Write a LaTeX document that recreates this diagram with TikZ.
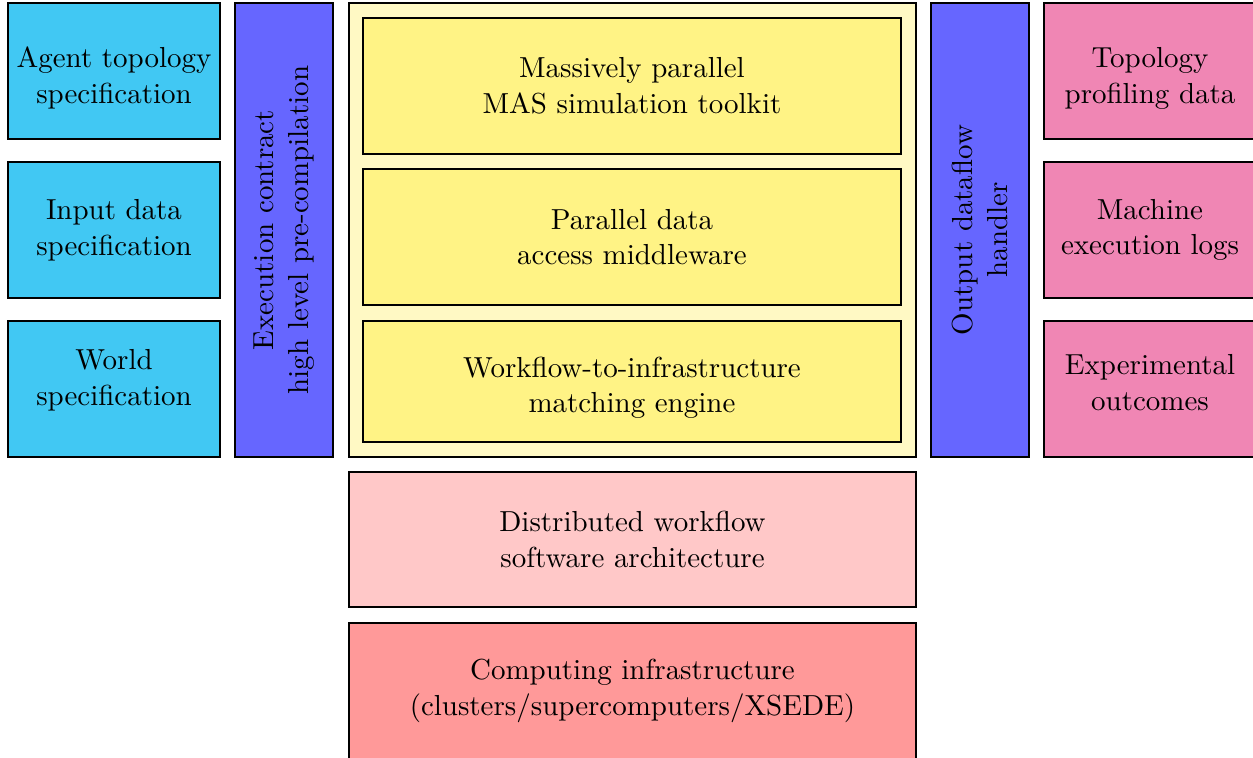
\documentclass[tikz,border=0pt]{standalone}
\usepackage{tikz}
\usepackage{xcolor}
\usetikzlibrary{positioning}

\definecolor{inputcol}{RGB}{65,200,243}
\definecolor{handlercol}{RGB}{102,102,255}
\definecolor{corecol}{RGB}{255,249,196}
\definecolor{toolcol}{RGB}{255,243,133}
\definecolor{outputcol}{RGB}{240,134,180}
\definecolor{archcol}{RGB}{255,200,200}
\definecolor{infracol}{RGB}{255,153,153}

\begin{document}
\begin{tikzpicture}[
    font=\fontsize{10.3pt}{12.7pt}\selectfont,
    box/.style={draw, thick, align=center, inner sep=0pt},
    txt/.style={align=center, inner sep=0pt},
    sidebox/.style={box, minimum width=2.65cm, minimum height=1.7cm},
    handler/.style={box, fill=handlercol, rotate=90, minimum width=5.675cm, minimum height=1.225cm},
    toolbox/.style={box, fill=toolcol, minimum width=6.725cm},
    widebox/.style={box, minimum width=7.0875cm}]
    \useasboundingbox (0,0) rectangle (15.6625,-9.475);
    % inputs
    \node[sidebox, fill=inputcol] (topo) at (1.425,-0.8875) {};
    \node[txt] (topo txt) at ([yshift=-0.09cm]topo) {Agent topology\\specification};
    \node[sidebox, fill=inputcol] (indata) at (1.425,-2.875) {Input data\\specification};
    \node[sidebox, fill=inputcol] (world) at (1.425,-4.8625) {};
    \node[txt] (world txt) at ([yshift=0.11cm]world) {World\\specification};
    \node[handler] (contract) at (3.55,-2.875) {Execution contract\\high level pre-compilation};
    % core
    \node[widebox, fill=corecol, minimum height=5.675cm] (core) at (7.906,-2.875) {};
    \node[toolbox, minimum height=1.7cm] (mas) at (7.9,-1.075) {Massively parallel\\MAS simulation toolkit};
    \node[toolbox, minimum height=1.7cm] (middle) at (7.9,-2.9625) {Parallel data\\access middleware};
    \node[toolbox, minimum height=1.5125cm] (match) at (7.9,-4.769) {};
    \node[txt] (match txt) at ([yshift=-0.08cm]match) {Workflow-to-infrastructure\\matching engine};
    % outputs
    \node[handler] (dataflow) at (12.25,-2.875) {Output dataflow\\handler};
    \node[sidebox, fill=outputcol] (profile) at (14.375,-0.8875) {};
    \node[txt] (profile txt) at ([yshift=-0.09cm]profile) {Topology\\profiling data};
    \node[sidebox, fill=outputcol] (logs) at (14.375,-2.875) {Machine\\execution logs};
    \node[sidebox, fill=outputcol] (outcome) at (14.375,-4.8625) {};
    \node[txt] (outcome txt) at ([yshift=0.08cm]outcome) {Experimental\\outcomes};
    % bottom layers
    \node[widebox, fill=archcol, minimum height=1.69cm] (arch) at (7.906,-6.744) {Distributed workflow\\software architecture};
    \node[widebox, fill=infracol, minimum height=1.7cm] (infra) at (7.906,-8.6375) {Computing infrastructure\\(clusters/supercomputers/XSEDE)};
\end{tikzpicture}
\end{document}
